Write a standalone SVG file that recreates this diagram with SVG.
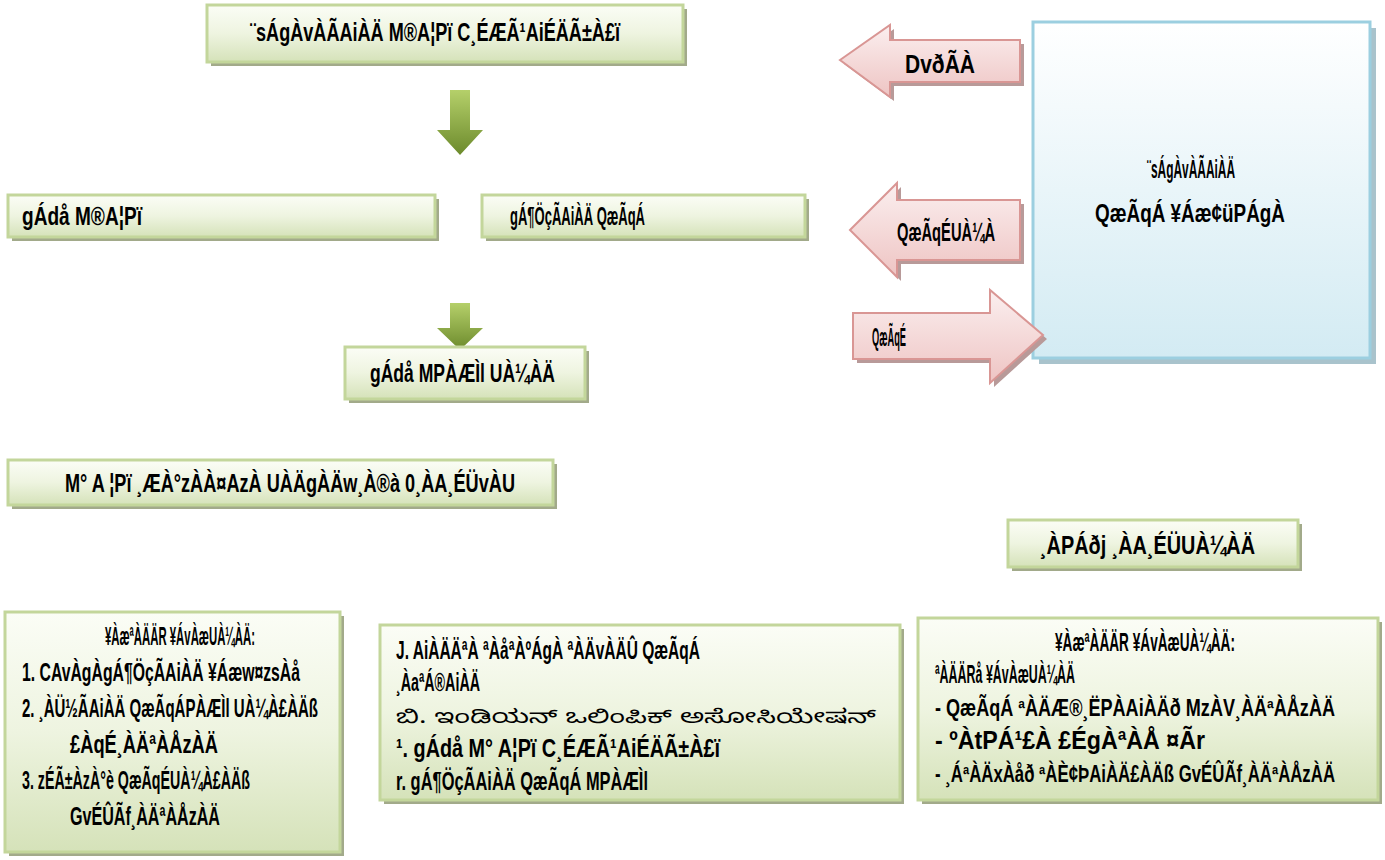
<svg xmlns="http://www.w3.org/2000/svg" width="1385" height="860" viewBox="0 0 1385 860">
<defs>
<linearGradient id="gBox" x1="0" y1="0" x2="0" y2="1">
<stop offset="0" stop-color="#fbfdf6"/><stop offset="0.5" stop-color="#eef4e0"/><stop offset="1" stop-color="#d5e2b9"/>
</linearGradient>
<linearGradient id="gBlue" x1="0" y1="0" x2="0" y2="1">
<stop offset="0" stop-color="#ffffff"/><stop offset="1" stop-color="#d3ebf3"/>
</linearGradient>
<linearGradient id="gPink" x1="0" y1="0" x2="0" y2="1">
<stop offset="0" stop-color="#fbefef"/><stop offset="1" stop-color="#eec4c3"/>
</linearGradient>
<linearGradient id="gGreenArrow" x1="0" y1="0" x2="0" y2="1">
<stop offset="0" stop-color="#b5d06a"/><stop offset="1" stop-color="#6c8a2c"/>
</linearGradient>
<style>
.box{fill:url(#gBox);stroke:#c3d69b;stroke-width:3}
.shadow{fill:#a2aa8a}
.t{font-family:"Liberation Sans Narrow","Liberation Sans",Arial,sans-serif;font-weight:bold;font-size:25px;fill:#000}
.s{font-size:23px}
.k{font-family:"Noto Sans Kannada","Noto Sans","Noto Sans CJK SC",sans-serif;font-weight:normal;font-size:19px;fill:#000}
.pink{fill:url(#gPink);stroke:#d99694;stroke-width:2}
.pshadow{fill:#b89a99}
.garrow{fill:url(#gGreenArrow)}
</style>
</defs>

<g id="connectors">
<g id="arrow-down-1">
<polygon class="garrow" points="450,90 470,90 470,130 483,130 460,155 437,130 450,130"/>
</g>
<g id="arrow-down-2">
<polygon class="garrow" points="450,303 470,303 470,328 483,328 460,350 437,328 450,328"/>
</g>
</g>

<g id="node-top">
<rect class="shadow" x="211" y="9" width="476" height="57"/>
<rect class="box" x="207" y="5" width="476" height="57"/>
<text class="t" x="250" y="41" textLength="370" lengthAdjust="spacingAndGlyphs">¨sÁgÀvÀÃAiÀÄ M®A¦Pï C¸ÉÆÃ¹AiÉÄÃ±À£ï</text>
</g>

<g id="node-state-olympic">
<rect class="shadow" x="12" y="199" width="427" height="42"/>
<rect class="box" x="8" y="195" width="427" height="42"/>
<text class="t" x="22" y="225" textLength="120" lengthAdjust="spacingAndGlyphs">gÁdå M®A¦Pï</text>
</g>

<g id="node-national-sports">
<rect class="shadow" x="486" y="199" width="323" height="42"/>
<rect class="box" x="482" y="195" width="323" height="42"/>
<text class="t" x="510" y="225" textLength="135" lengthAdjust="spacingAndGlyphs">gÁ¶ÖçÃAiÀÄ QæÃqÁ</text>
</g>

<g id="node-state-federations">
<rect class="shadow" x="349" y="351" width="240" height="52"/>
<rect class="box" x="345" y="347" width="240" height="52"/>
<text class="t" x="370" y="382" textLength="185" lengthAdjust="spacingAndGlyphs">gÁdå MPÀÆÌl UÀ¼ÀÄ</text>
</g>

<g id="node-olympic-unrecognised">
<rect class="shadow" x="12" y="464" width="545" height="45"/>
<rect class="box" x="8" y="460" width="545" height="45"/>
<text class="t" x="65" y="492" textLength="450" lengthAdjust="spacingAndGlyphs">M° A ¦Pï ¸ÆÀ°zÀÀ¤AzÀ UÀÄgÀÄw¸À®à 0¸ÀA¸ÉÜvÀU</text>
</g>

<g id="node-govt-institutions">
<rect class="shadow" x="1012" y="524" width="290" height="47"/>
<rect class="box" x="1008" y="520" width="290" height="47"/>
<text class="t" x="1040" y="554" textLength="215" lengthAdjust="spacingAndGlyphs">¸ÀPÁðj ¸ÀA¸ÉÜUÀ¼ÀÄ</text>
</g>

<g id="node-sai">
<rect x="1039" y="28" width="337" height="336" fill="#a9c3cc"/>
<rect x="1033" y="22" width="337" height="336" fill="url(#gBlue)" stroke="#9ccfe0" stroke-width="3"/>
<text class="t" x="1147" y="178" textLength="88" lengthAdjust="spacingAndGlyphs">¨sÁgÀvÀÃAiÀÄ</text>
<text class="t" x="1095" y="222" textLength="190" lengthAdjust="spacingAndGlyphs">QæÃqÁ ¥Áæ¢üPÁgÀ</text>
</g>

<g id="arrow-host">
<polygon class="pshadow" points="844,64 894,29 894,44 1024,44 1024,86 894,86 894,101"/>
<polygon class="pink" points="840,60 890,25 890,40 1020,40 1020,82 890,82 890,97"/>
<text class="t" x="905" y="73" textLength="70" lengthAdjust="spacingAndGlyphs">DvðÃÀ</text>
</g>

<g id="arrow-sports">
<polygon class="pshadow" points="854,234 901,187 901,204 1024,204 1024,264 901,264 901,281"/>
<polygon class="pink" points="850,230 897,183 897,200 1020,200 1020,260 897,260 897,277"/>
<text class="t" x="897" y="241" textLength="98" lengthAdjust="spacingAndGlyphs">QæÃqÉUÀ¼À</text>
</g>

<g id="arrow-sport">
<polygon class="pshadow" points="857,317 994,317 994,294 1047,339 994,387 994,363 857,363"/>
<polygon class="pink" points="853,313 990,313 990,290 1043,335 990,383 990,359 853,359"/>
<text class="t" x="872" y="346" textLength="34" lengthAdjust="spacingAndGlyphs">QæÃqÉ</text>
</g>

<g id="node-roles-left">
<rect class="shadow" x="9" y="616" width="335" height="240"/>
<rect class="box" x="5" y="612" width="335" height="240"/>
<text class="t" x="105" y="645" textLength="150" lengthAdjust="spacingAndGlyphs">¥ÀæªÀÄÄR ¥ÁvÀæUÀ¼ÀÄ:</text>
<text class="t" x="22" y="681" textLength="278" lengthAdjust="spacingAndGlyphs">1. CAvÀgÀgÁ¶ÖçÃAiÀÄ ¥Áæw¤zsÀå</text>
<text class="t" x="22" y="717" textLength="296" lengthAdjust="spacingAndGlyphs">2. ¸ÀÜ½ÃAiÀÄ QæÃqÁPÀÆÌl UÀ¼À£ÀÄß</text>
<text class="t" x="70" y="753" textLength="148" lengthAdjust="spacingAndGlyphs">£ÀqÉ¸ÀÄªÀÅzÀÄ</text>
<text class="t" x="22" y="789" textLength="228" lengthAdjust="spacingAndGlyphs">3. zÉÃ±ÀzÀ°è QæÃqÉUÀ¼À£ÀÄß</text>
<text class="t" x="70" y="825" textLength="150" lengthAdjust="spacingAndGlyphs">GvÉÛÃf¸ÀÄªÀÅzÀÄ</text>
</g>

<g id="node-bodies">
<rect class="shadow" x="384" y="629" width="520" height="175"/>
<rect class="box" x="380" y="625" width="520" height="175"/>
<text class="t" x="396" y="659" textLength="304" lengthAdjust="spacingAndGlyphs">J. AiÀÄÄªÀ ªÀåªÀºÁgÀ ªÀÄvÀÄÛ QæÃqÁ</text>
<text class="t" x="396" y="691" textLength="84" lengthAdjust="spacingAndGlyphs">¸ÀaªÁ®AiÀÄ</text>
<text class="k" x="396" y="723" textLength="480" lengthAdjust="spacingAndGlyphs">ಬಿ. ಇಂಡಿಯನ್ ಒಲಿಂಪಿಕ್ ಅಸೋಸಿಯೇಷನ್</text>
<text class="t" x="396" y="757" textLength="324" lengthAdjust="spacingAndGlyphs">¹. gÁdå M° A¦Pï C¸ÉÆÃ¹AiÉÄÃ±À£ï</text>
<text class="t" x="396" y="790" textLength="252" lengthAdjust="spacingAndGlyphs">r. gÁ¶ÖçÃAiÀÄ QæÃqÁ MPÀÆÌl</text>
</g>

<g id="node-roles-right">
<rect class="shadow" x="922" y="622" width="460" height="182"/>
<rect class="box" x="918" y="618" width="460" height="182"/>
<text class="t" x="1055" y="651" textLength="180" lengthAdjust="spacingAndGlyphs">¥ÀæªÀÄÄR ¥ÁvÀæUÀ¼ÀÄ:</text>
<text class="t" x="935" y="683" textLength="140" lengthAdjust="spacingAndGlyphs">ªÀÄÄRå ¥ÁvÀæUÀ¼ÀÄ</text>
<text class="t s" x="935" y="716" textLength="400" lengthAdjust="spacingAndGlyphs">- QæÃqÁ ªÀÄÆ®¸ËPÀAiÀÄð MzÀV¸ÀÄªÀÅzÀÄ</text>
<text class="t" x="935" y="749" textLength="270" lengthAdjust="spacingAndGlyphs">- ºÀtPÁ¹£À £ÉgÀªÀÅ ¤Ãr</text>
<text class="t s" x="935" y="782" textLength="400" lengthAdjust="spacingAndGlyphs">- ¸ÁªÀÄxÀåð ªÀÈ¢ÞAiÀÄ£ÀÄß GvÉÛÃf¸ÀÄªÀÅzÀÄ</text>
</g>
</svg>
